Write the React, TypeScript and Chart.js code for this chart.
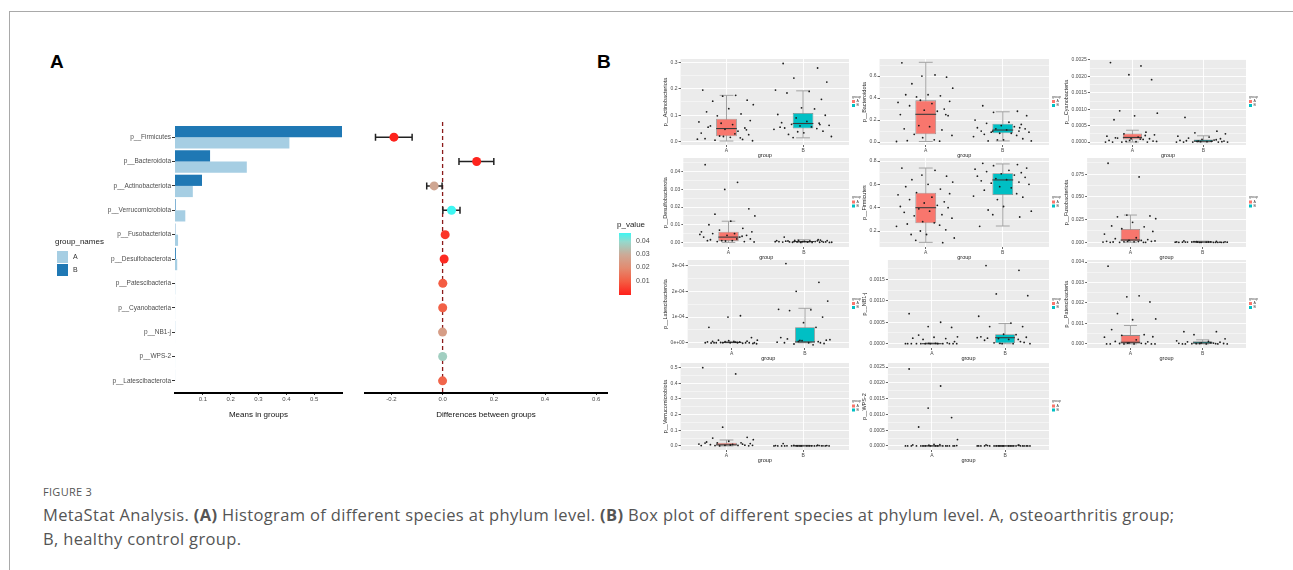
import React, { useEffect, useRef } from "react";
import { Chart, registerables } from "chart.js";
Chart.register(...registerables);
Chart.defaults.font.family = "'Liberation Sans', Arial, sans-serif";

// ---------- Panel A: means and differences ----------
const PHYLA = ["p__Firmicutes", "p__Bacteroidota", "p__Actinobacteriota", "p__Verrucomicrobiota", "p__Fusobacteriota", "p__Desulfobacterota", "p__Patescibacteria", "p__Cyanobacteria", "p__NB1-j", "p__WPS-2", "p__Latescibacterota"];
const MEAN_A = [0.411, 0.258, 0.064, 0.037, 0.011, 0.008, 0.0008, 0.0003, 0.0001, 0.0002, 0.0];
const MEAN_B = [0.602, 0.126, 0.097, 0.002, 0.001, 0.003, 0.0001, 0.0001, 0.0003, 0.0, 0.0001];
const MEAN_TICKS = [0.1, 0.2, 0.3, 0.4, 0.5];
const DIFF = [-0.19, 0.133, -0.033, 0.035, 0.01, 0.006, 0.0009, 0.0004, -0.0002, 0.0002, -0.0001];
const DIFF_LO = [-0.262, 0.064, -0.062, 0.001, 0.004, 0.002, 0.0, -0.0001, -0.0006, -0.0002, -0.0002];
const DIFF_HI = [-0.119, 0.2, -0.002, 0.068, 0.016, 0.01, 0.0015, 0.0008, 0.0002, 0.0006, 0.0];
const P_VALUES = [0.0005, 0.0008, 0.029, 0.0465, 0.004, 0.002, 0.01, 0.011, 0.026, 0.038, 0.012];
const DIFF_TICKS = [-0.2, 0, 0.2, 0.4, 0.6];
const P_LEGEND_TICKS = [0.01, 0.02, 0.03, 0.04];
const P_MAX = 0.0465;
const P_STOPS: [number, string][] = [
  [0, "#ff1f1a"], [0.01, "#f45c42"], [0.02, "#e38a6f"], [0.03, "#cda996"], [0.04, "#96d8cc"], [0.0465, "#3ef6f2"],
];

// ---------- Panel B: box plots ----------
const GROUPS = ["A", "B"];
const JITTER = [-0.31, 0.12, -0.05, 0.27, -0.18, 0.35, 0.03, -0.26, 0.19, -0.12, 0.31, -0.36, 0.08, -0.21, 0.24, -0.02, 0.15, -0.33, 0.29, -0.09, 0.05, -0.28, 0.21, -0.15, 0.34, -0.04, 0.11, -0.24, 0.18, -0.38, 0.26, -0.07, 0.01, -0.19, 0.37, -0.13, 0.22, -0.3, 0.09, -0.23];

const ACTINO_A = [0.195, 0.175, 0.172, 0.157, 0.153, 0.14, 0.125, 0.113, 0.105, 0.098, 0.08, 0.075, 0.065, 0.06, 0.052, 0.047, 0.04, 0.033, 0.027, 0.022, 0.017, 0.012, 0.009, 0.006, 0.004, 0.02, 0.03, 0.055, 0.015, 0.01, 0.045, 0.07];
const ACTINO_B = [0.295, 0.278, 0.24, 0.225, 0.195, 0.19, 0.184, 0.16, 0.128, 0.124, 0.103, 0.1, 0.09, 0.077, 0.072, 0.07, 0.066, 0.062, 0.06, 0.056, 0.052, 0.05, 0.047, 0.04, 0.038, 0.034, 0.028, 0.02, 0.016, 0.065, 0.055];
const BACTE_A = [0.72, 0.61, 0.6, 0.59, 0.53, 0.49, 0.43, 0.43, 0.42, 0.41, 0.37, 0.36, 0.35, 0.33, 0.3, 0.29, 0.28, 0.25, 0.24, 0.15, 0.14, 0.12, 0.11, 0.07, 0.06, 0.04, 0.02, 0.012, 0.008, 0.005, 0.25, 0.38];
const BACTE_B = [0.33, 0.28, 0.27, 0.24, 0.2, 0.18, 0.17, 0.16, 0.15, 0.14, 0.13, 0.12, 0.12, 0.11, 0.1, 0.1, 0.09, 0.09, 0.08, 0.08, 0.07, 0.06, 0.05, 0.03, 0.02, 0.02, 0.01, 0.01, 0.1, 0.13];
const CYANO_A = [0.00242, 0.00232, 0.00205, 0.0019, 0.00095, 0.00088, 0.0008, 0.00068, 0.0003, 0.00025, 0.00022, 0.00018, 0.00015, 0.00012, 0.0001, 0.0001, 0.00008, 0.00005, 0.00003, 0.00002, 0.00001, 0, 0, 0, 0.00002, 0.00005, 0.00009, 0.00013, 0.0002, 0];
const CYANO_B = [0.00075, 0.00033, 0.00028, 0.00025, 0.00018, 0.00015, 0.00012, 0.0001, 0.00008, 0.00006, 0.00005, 0.00003, 0.00002, 0.00001, 0, 0, 0, 0, 0.00001, 0.00002, 0.00004, 0.00007, 0, 0.00001, 0.00003];
const DESULFO_A = [0.044, 0.034, 0.03, 0.019, 0.016, 0.015, 0.012, 0.01, 0.008, 0.007, 0.006, 0.006, 0.005, 0.005, 0.004, 0.004, 0.003, 0.003, 0.002, 0.001, 0.001, 0.001, 0.0005, 0.0005, 0.0003, 0.0008, 0.002, 0.0015, 0.0035, 0.0045];
const DESULFO_B = [0.003, 0.0015, 0.0012, 0.001, 0.001, 0.0008, 0.0008, 0.0006, 0.0005, 0.0005, 0.0004, 0.0003, 0.0003, 0.0002, 0.0002, 0.0001, 0.0001, 0, 0, 0, 0.0007, 0.0009, 0.0004, 0.0002, 0.0011, 0.0006, 0.0003, 0.0001, 0.0005, 0.0013];
const FIRMI_A = [0.74, 0.72, 0.68, 0.67, 0.64, 0.62, 0.6, 0.58, 0.56, 0.53, 0.52, 0.51, 0.49, 0.47, 0.45, 0.44, 0.42, 0.41, 0.4, 0.39, 0.37, 0.36, 0.34, 0.33, 0.31, 0.28, 0.27, 0.26, 0.25, 0.24, 0.21, 0.2, 0.17, 0.17, 0.14, 0.12, 0.1];
const FIRMI_B = [0.78, 0.77, 0.76, 0.74, 0.73, 0.72, 0.71, 0.7, 0.69, 0.68, 0.67, 0.66, 0.65, 0.64, 0.63, 0.62, 0.61, 0.6, 0.58, 0.57, 0.55, 0.52, 0.5, 0.49, 0.47, 0.41, 0.38, 0.37, 0.34, 0.32, 0.24];
const FUSO_A = [0.087, 0.072, 0.03, 0.029, 0.028, 0.026, 0.022, 0.018, 0.017, 0.015, 0.012, 0.009, 0.005, 0.004, 0.003, 0.002, 0.002, 0.001, 0.001, 0.0005, 0.0005, 0, 0, 0, 0.0015, 0.001, 0.0008, 0.0003, 0, 0.0002];
const FUSO_B = [0.0015, 0.001, 0.0008, 0.0005, 0.0004, 0.0003, 0.0002, 0.0001, 0, 0, 0, 0, 0.0006, 0.0002, 0.0001, 0, 0.0003, 0.0001, 0, 0.0004, 0.0002, 0, 0.0001, 0, 0.0003];
const LATE_A = [0.00006, 0.000105, 0.0001, 0.00002, 0.00001, 0.00001, 0.000005, 0.000005, 0, 0, 0, 0, 0, 0, 0, 0, -0.000002, 0.000003, -0.000003, 0.000004, 0.000002, -0.000001, 0.000006, 0.000001, -0.000004, 0.000008, 0.000003, 0];
const LATE_B = [0.000308, 0.000235, 0.0002, 0.000162, 0.00013, 0.000128, 0.000125, 0.0001, 0.000078, 0.00006, 0.00002, 0.00001, 0.000005, 0, 0, 0, -0.000005, 0.000012, 0.000008, -0.000008, 0.000015, 0.000004, 0.000002, -0.000003, 0.000009];
const NB1_A = [0.0007, 0.0005, 0.0004, 0.00038, 0.0002, 0.00016, 0.00015, 0.00013, 0.00012, 0.0001, 0.00005, 0, 0, 0, 0, 0, 0, 0, 0, 0, 0.00001, 0, 0.00002, 0, 0, 0.00001];
const NB1_B = [0.00182, 0.00171, 0.00116, 0.00112, 0.00064, 0.00048, 0.0004, 0.0004, 0.00022, 0.00021, 0.00016, 0.00015, 0.00012, 0.0001, 0.00008, 0.00005, 0.00002, 0, 0, 0, 0.00013, 0.0001, 0.00014, 0.00003, 0.00001];
const PATE_A = [0.0038, 0.00235, 0.0023, 0.00205, 0.00148, 0.00122, 0.00118, 0.0007, 0.00045, 0.00042, 0.00035, 0.00033, 0.0002, 0.00012, 0.0001, 0.00005, 0.00003, 0, 0, 0, 0, 0, 0.00001, 0.00002, 0, 0.00004];
const PATE_B = [0.0006, 0.0006, 0.00045, 0.00025, 0.00015, 0.00012, 0.0001, 0.00008, 0.00005, 0.00004, 0.00003, 0.00002, 0.00001, 0, 0, 0, 0.00001, 0, 0.00002, 0.00006, 0, 0.00001];
const VERRU_A = [0.5, 0.46, 0.12, 0.055, 0.05, 0.04, 0.03, 0.025, 0.02, 0.02, 0.015, 0.012, 0.01, 0.008, 0.005, 0.004, 0.003, 0.002, 0.001, 0, 0.006, 0.018, 0.011, 0.002, 0.004];
const VERRU_B = [0.015, 0.005, 0.003, 0.002, 0.002, 0.001, 0.001, 0.0005, 0, 0, 0, 0, 0.001, 0.0005, 0, 0.002, 0.001, 0, 0.0003, 0.0008, 0, 0.0004, 0.0002, 0.001, 0];
const WPS_A = [0.00244, 0.0019, 0.0012, 0.0009, 0.0006, 0.0002, 0.00005, 0.00003, 0, 0, 0, 0, 0, 0, 0, 0, 0, 0, 0, 0, 0, 0, 0, 0, 0.00001, 0.00002, 0.00004];
const WPS_B = [0.00003, 0.00002, 0, 0, 0, 0, 0, 0, 0, 0, 0, 0, 0, 0, 0, 0, 0, 0, 0, 0, 0.00001, 0.00002, 0, 0, 0];

// box stats: [lower whisker, q1, median, q3, upper whisker]
const BOX_A = [
  [0.003, 0.021, 0.05, 0.087, 0.175], [0.005, 0.07, 0.252, 0.379, 0.725], [0, 0.00008, 0.00014, 0.00026, 0.00036],
  [0, 0.0007, 0.003, 0.006, 0.012], [0.103, 0.266, 0.4, 0.529, 0.74], [0, 0.001, 0.0025, 0.0147, 0.03],
  [0, 0, 0.000001, 0.000003, 0.000005], [0, 0, 0, 0.00001, 0.00002], [0, 0.00001, 0.00008, 0.00043, 0.0009],
  [0, 0.003, 0.007, 0.02, 0.038], [0, 0, 0, 0, 0],
];
const BOX_B = [
  [0.015, 0.05, 0.069, 0.109, 0.192], [0.01, 0.079, 0.109, 0.166, 0.275], [0, 0.000005, 0.00003, 0.00008, 0.00019],
  [0, 0.0002, 0.0005, 0.0008, 0.0015], [0.243, 0.509, 0.638, 0.695, 0.775], [0, 0.0001, 0.0003, 0.0006, 0.0012],
  [0, 0.000001, 0.000003, 0.00006, 0.000134], [0, 0.00001, 0.00014, 0.00022, 0.00047], [0, 0.00001, 0.00005, 0.00013, 0.0002],
  [0, 0, 0.0005, 0.002, 0.004], [0, 0, 0, 0, 0],
];
const BOX_TITLES = ["p__Actinobacteriota", "p__Bacteroidota", "p__Cyanobacteria", "p__Desulfobacterota", "p__Firmicutes", "p__Fusobacteriota", "p__Latescibacterota", "p__NB1-j", "p__Patescibacteria", "p__Verrucomicrobiota", "p__WPS-2"];
const BOX_POINTS_A = [ACTINO_A, BACTE_A, CYANO_A, DESULFO_A, FIRMI_A, FUSO_A, LATE_A, NB1_A, PATE_A, VERRU_A, WPS_A];
const BOX_POINTS_B = [ACTINO_B, BACTE_B, CYANO_B, DESULFO_B, FIRMI_B, FUSO_B, LATE_B, NB1_B, PATE_B, VERRU_B, WPS_B];
const BOX_Y_RANGE = [
  [-0.012, 0.312], [-0.027, 0.755], [-0.00009, 0.00253], [-0.0026, 0.0478], [0.063, 0.826], [-0.0052, 0.0928],
  [-0.0000205, 0.000322], [-0.0001, 0.00195], [-0.0002, 0.0041], [-0.026, 0.53], [-0.00013, 0.00263],
];
const BOX_Y_TICKS = [
  [0, 0.1, 0.2, 0.3], [0, 0.2, 0.4, 0.6], [0, 0.0005, 0.001, 0.0015, 0.002, 0.0025], [0, 0.01, 0.02, 0.03, 0.04],
  [0.2, 0.4, 0.6, 0.8], [0, 0.025, 0.05, 0.075], [0, 0.0001, 0.0002, 0.0003], [0, 0.0005, 0.001, 0.0015],
  [0, 0.001, 0.002, 0.003, 0.004], [0, 0.1, 0.2, 0.3, 0.4, 0.5], [0, 0.0005, 0.001, 0.0015, 0.002, 0.0025],
];
const BOX_Y_LABELS = [
  ["0.0", "0.1", "0.2", "0.3"], ["0.0", "0.2", "0.4", "0.6"], ["0.0000", "0.0005", "0.0010", "0.0015", "0.0020", "0.0025"],
  ["0.00", "0.01", "0.02", "0.03", "0.04"], ["0.2", "0.4", "0.6", "0.8"], ["0.000", "0.025", "0.050", "0.075"],
  ["0e+00", "1e-04", "2e-04", "3e-04"], ["0.0000", "0.0005", "0.0010", "0.0015"], ["0.000", "0.001", "0.002", "0.003", "0.004"],
  ["0.0", "0.1", "0.2", "0.3", "0.4", "0.5"], ["0.0000", "0.0005", "0.0010", "0.0015", "0.0020", "0.0025"],
];

// ---------- style ----------
const LIGHT_BLUE = "#a6cee3";
const DARK_BLUE = "#1f78b4";
const BOX_RED = "#F8766D";
const BOX_TEAL = "#00BFC4";
const COL_LEFT = [660, 859, 1061];
const COL_PANEL_RIGHT = [849, 1049, 1246];
const ROW_PANEL = [[59, 145], [158, 247], [260, 348], [363, 450]];

function hexToRgb(h: string) {
  const n = parseInt(h.slice(1), 16);
  return [(n >> 16) & 255, (n >> 8) & 255, n & 255];
}
function pColor(p: number) {
  for (let i = 1; i < P_STOPS.length; i++) {
    if (p <= P_STOPS[i][0] || i === P_STOPS.length - 1) {
      const [p0, c0] = P_STOPS[i - 1];
      const [p1, c1] = P_STOPS[i];
      const t = Math.max(0, Math.min(1, (p - p0) / (p1 - p0)));
      const a = hexToRgb(c0), b = hexToRgb(c1);
      return `rgb(${a.map((v, k) => Math.round(v + (b[k] - v) * t)).join(",")})`;
    }
  }
  return P_STOPS[0][1];
}

function ChartCanvas({ left, top, width, height, make }: any) {
  const ref = useRef<HTMLCanvasElement>(null);
  useEffect(() => {
    const c = make(ref.current);
    return () => c.destroy();
  }, []);
  return <canvas ref={ref} width={width} height={height} style={{ position: "absolute", left, top, width, height }} />;
}

function makeMeans(canvas: HTMLCanvasElement) {
  return new Chart(canvas, {
    type: "bar",
    data: {
      labels: PHYLA,
      datasets: [
        { label: "B", data: MEAN_B, backgroundColor: DARK_BLUE, categoryPercentage: 0.92, barPercentage: 1 },
        { label: "A", data: MEAN_A, backgroundColor: LIGHT_BLUE, categoryPercentage: 0.92, barPercentage: 1 },
      ],
    },
    options: {
      indexAxis: "y",
      animation: false,
      responsive: false,
      layout: { padding: { top: 25, right: 8, left: 0, bottom: 0 } },
      plugins: { legend: { display: false }, tooltip: { enabled: false } },
      scales: {
        x: {
          type: "linear", min: 0, max: 0.6,
          afterBuildTicks: (s: any) => { s.ticks = MEAN_TICKS.map((v) => ({ value: v })); },
          afterFit: (s: any) => { s.height = 27; },
          ticks: { callback: (v: any) => Number(v).toFixed(1), font: { size: 6 }, color: "#4d4d4d", padding: 1, autoSkip: false, maxRotation: 0 },
          grid: { drawOnChartArea: false, drawTicks: true, tickLength: 2, color: "#333" },
          border: { display: true, color: "#000", width: 2 },
          title: { display: true, text: "Means in groups", font: { size: 8 }, color: "#111", padding: { top: 1, bottom: 0 } },
        },
        y: {
          afterFit: (s: any) => { s.width = 175; },
          ticks: { font: { size: 6.5 }, color: "#4d4d4d", padding: 1 },
          grid: { drawOnChartArea: false, drawTicks: true, tickLength: 3, color: "#333", offset: false },
          border: { display: false },
        },
      },
    },
  } as any);
}

const diffExtras = {
  id: "diffExtras",
  beforeDatasetsDraw(chart: any) {
    const { ctx, chartArea, scales } = chart;
    const x = scales.x, y = scales.y;
    ctx.save();
    ctx.strokeStyle = "#8b1a1a";
    ctx.lineWidth = 1.3;
    ctx.setLineDash([4, 3]);
    const x0 = x.getPixelForValue(0);
    ctx.beginPath();
    ctx.moveTo(x0, chartArea.top - 3);
    ctx.lineTo(x0, chartArea.bottom);
    ctx.stroke();
    ctx.setLineDash([]);
    ctx.strokeStyle = "#222";
    ctx.lineWidth = 1.5;
    PHYLA.forEach((_, i) => {
      const yy = y.getPixelForValue(i);
      const xl = x.getPixelForValue(DIFF_LO[i]);
      const xh = x.getPixelForValue(DIFF_HI[i]);
      ctx.beginPath();
      ctx.moveTo(xl, yy); ctx.lineTo(xh, yy);
      ctx.moveTo(xl, yy - 3.5); ctx.lineTo(xl, yy + 3.5);
      ctx.moveTo(xh, yy - 3.5); ctx.lineTo(xh, yy + 3.5);
      ctx.stroke();
    });
    ctx.restore();
  },
};

function makeDiff(canvas: HTMLCanvasElement) {
  return new Chart(canvas, {
    type: "scatter",
    data: {
      datasets: [{
        data: PHYLA.map((p, i) => ({ x: DIFF[i], y: p })),
        pointRadius: 4.5,
        pointBorderWidth: 0,
        pointBackgroundColor: P_VALUES.map(pColor),
      }],
    },
    options: {
      animation: false,
      responsive: false,
      layout: { padding: { top: 25, right: 13, left: 15, bottom: 0 } },
      plugins: { legend: { display: false }, tooltip: { enabled: false } },
      scales: {
        x: {
          type: "linear", min: -0.303, max: 0.642,
          afterBuildTicks: (s: any) => { s.ticks = DIFF_TICKS.map((v) => ({ value: v })); },
          afterFit: (s: any) => { s.height = 27; },
          ticks: { callback: (v: any) => Number(v).toFixed(1), font: { size: 6 }, color: "#4d4d4d", padding: 1, autoSkip: false, maxRotation: 0 },
          grid: { drawOnChartArea: false, drawTicks: true, tickLength: 2, color: "#333" },
          border: { display: true, color: "#000", width: 2 },
          title: { display: true, text: "Differences between groups", font: { size: 8 }, color: "#111", padding: { top: 1, bottom: 0 } },
        },
        y: { type: "category", labels: PHYLA, offset: true, display: false },
      },
    },
    plugins: [diffExtras],
  } as any);
}

function makeBox(canvas: HTMLCanvasElement, k: number) {
  const [yMin, yMax] = BOX_Y_RANGE[k];
  const majors = BOX_Y_TICKS[k];
  const labels = BOX_Y_LABELS[k];
  const step = majors[1] - majors[0];
  const eps = (yMax - yMin) * 1e-6;
  const all: number[] = [];
  for (let v = majors[0] - step; v <= yMax + eps; v += step / 2) if (v >= yMin - eps) all.push(v);
  const majorIdx = (v: number) => majors.findIndex((t) => Math.abs(t - v) < eps);
  const boxes = [BOX_A[k], BOX_B[k]];
  const pts = [
    ...BOX_POINTS_A[k].map((v, i) => ({ x: 1 + JITTER[i % JITTER.length], y: v })),
    ...BOX_POINTS_B[k].map((v, i) => ({ x: 2 + JITTER[(i + 7) % JITTER.length], y: v })),
  ];
  const boxPlugin = {
    id: "boxExtras",
    beforeDraw(chart: any) {
      const { ctx, chartArea: a } = chart;
      ctx.save();
      ctx.fillStyle = "#ebebeb";
      ctx.fillRect(a.left, a.top, a.right - a.left, a.bottom - a.top);
      ctx.restore();
    },
    beforeDatasetDraw(chart: any, args: any) {
      if (args.index !== 1) return;
      const { ctx, scales } = chart;
      const x = scales.x, y = scales.y;
      const half = x.getPixelForValue(1.09) - x.getPixelForValue(1);
      ctx.save();
      ctx.strokeStyle = "#a3a3a3";
      ctx.lineWidth = 1;
      boxes.forEach((b, i) => {
        const cx = x.getPixelForValue(i + 1);
        const lo = y.getPixelForValue(b[0]), hi = y.getPixelForValue(b[4]);
        ctx.beginPath();
        ctx.moveTo(cx, lo); ctx.lineTo(cx, hi);
        ctx.moveTo(cx - half, lo); ctx.lineTo(cx + half, lo);
        ctx.moveTo(cx - half, hi); ctx.lineTo(cx + half, hi);
        ctx.stroke();
      });
      ctx.restore();
    },
    afterDatasetDraw(chart: any, args: any) {
      if (args.index !== 1) return;
      const { ctx, scales } = chart;
      const x = scales.x, y = scales.y;
      const half = (x.getPixelForValue(1.135) - x.getPixelForValue(1));
      ctx.save();
      ctx.strokeStyle = "#3a3a3a";
      ctx.lineWidth = 1.1;
      boxes.forEach((b, i) => {
        const cx = x.getPixelForValue(i + 1);
        const m = y.getPixelForValue(b[2]);
        ctx.beginPath();
        ctx.moveTo(cx - half, m); ctx.lineTo(cx + half, m);
        ctx.stroke();
      });
      ctx.restore();
    },
    afterDraw(chart: any) {
      const { ctx, chartArea: a } = chart;
      const lx = a.right + 3;
      const cy = (a.top + a.bottom) / 2;
      ctx.save();
      ctx.font = "3.5px 'Liberation Sans', Arial";
      ctx.fillStyle = "#444";
      ctx.textBaseline = "middle";
      ctx.fillText("group", lx, cy - 5);
      [BOX_RED, BOX_TEAL].forEach((c, i) => {
        ctx.fillStyle = c;
        ctx.fillRect(lx, cy - 2 + i * 4, 3, 3);
        ctx.fillStyle = "#444";
        ctx.fillText(GROUPS[i], lx + 4.5, cy - 0.5 + i * 4);
      });
      ctx.restore();
    },
  };
  return new Chart(canvas, {
    type: "scatter",
    data: {
      datasets: [
        { type: "scatter", data: pts, pointRadius: 0.9, pointBorderWidth: 0, pointBackgroundColor: "#1c1c1c" },
        {
          type: "bar",
          data: boxes.map((b, i) => ({ x: i + 1, y: [b[1], b[3]] })),
          backgroundColor: [BOX_RED, BOX_TEAL],
          borderColor: "#8a8a8a",
          borderWidth: 0.8,
          borderSkipped: false,
          barPercentage: 0.27,
          categoryPercentage: 1,
          grouped: false,
        },
      ],
    },
    options: {
      animation: false,
      responsive: false,
      layout: { padding: { top: 4, right: 12, left: 2, bottom: 0 } },
      plugins: { legend: { display: false }, tooltip: { enabled: false } },
      scales: {
        x: {
          type: "linear", min: 0.4, max: 2.6, offset: false,
          afterBuildTicks: (s: any) => { s.ticks = [{ value: 1 }, { value: 2 }]; },
          afterFit: (s: any) => { s.height = 14; },
          ticks: { callback: (v: any) => GROUPS[Math.round(v) - 1], font: { size: 5 }, color: "#4d4d4d", padding: 1, autoSkip: false, maxRotation: 0 },
          grid: { color: "#ffffff", lineWidth: 0.9, tickColor: "#555", tickLength: 2, offset: false },
          border: { display: false },
          title: { display: true, text: "group", font: { size: 5.5 }, color: "#222", padding: { top: 0, bottom: 0 } },
        },
        y: {
          type: "linear", min: yMin, max: yMax,
          afterBuildTicks: (s: any) => { s.ticks = all.map((v) => ({ value: v })); },
          ticks: {
            callback: (v: any) => { const i = majorIdx(Number(v)); return i >= 0 ? labels[i] : ""; },
            font: { size: 5 }, color: "#4d4d4d", padding: 1, autoSkip: false,
          },
          grid: {
            color: "#ffffff",
            lineWidth: (c: any) => (c.tick && majorIdx(c.tick.value) >= 0 ? 0.9 : 0.45),
            tickColor: (c: any) => (c.tick && majorIdx(c.tick.value) >= 0 ? "#555" : "rgba(0,0,0,0)"),
            tickLength: 2,
          },
          border: { display: false },
          title: { display: true, text: BOX_TITLES[k], font: { size: 5.5 }, color: "#222", padding: { top: 0, bottom: 1 } },
        },
      },
    },
    plugins: [boxPlugin],
  } as any);
}

export default function App() {
  const gradient = `linear-gradient(to top, ${P_STOPS.map(([p, c]) => `${c} ${(p / P_MAX) * 100}%`).join(", ")})`;
  return (
    <div style={{ position: "absolute", left: 0, top: 0, width: 1293, height: 570, overflow: "hidden", background: "#fff", fontFamily: "'Liberation Sans', Arial, sans-serif" }}>
      <div style={{ position: "absolute", left: 9, top: 11, width: 1300, height: 600, borderLeft: "1.5px solid #a9a9a9", borderTop: "1.5px solid #a9a9a9" }} />
      <div style={{ position: "absolute", left: 50, top: 51, fontSize: 19, fontWeight: 700, color: "#000" }}>A</div>
      <div style={{ position: "absolute", left: 597, top: 51, fontSize: 19, fontWeight: 700, color: "#000" }}>B</div>

      <ChartCanvas left={0} top={100} width={350} height={320} make={makeMeans} />
      <ChartCanvas left={350} top={100} width={270} height={320} make={makeDiff} />

      {/* group_names legend */}
      <div style={{ position: "absolute", left: 55, top: 237, fontSize: 8, color: "#222" }}>group_names</div>
      {["A", "B"].map((g, i) => (
        <React.Fragment key={g}>
          <div style={{ position: "absolute", left: 57, top: 251 + i * 13, width: 11, height: 12, background: i === 0 ? LIGHT_BLUE : DARK_BLUE }} />
          <div style={{ position: "absolute", left: 73, top: 253 + i * 13, fontSize: 7, color: "#333" }}>{g}</div>
        </React.Fragment>
      ))}

      {/* p_value legend */}
      <div style={{ position: "absolute", left: 617, top: 220, fontSize: 8, color: "#222" }}>p_value</div>
      <div style={{ position: "absolute", left: 619, top: 233, width: 12, height: 62, background: gradient }} />
      {P_LEGEND_TICKS.map((p) => (
        <div key={p} style={{ position: "absolute", left: 636, top: 295 - (p / P_MAX) * 62 - 5, fontSize: 7, color: "#4d4d4d" }}>{p.toFixed(2)}</div>
      ))}

      {BOX_TITLES.map((t, k) => {
        const c = k % 3, r = Math.floor(k / 3);
        const [pt, pb] = ROW_PANEL[r];
        return (
          <ChartCanvas key={t} left={COL_LEFT[c]} top={pt - 4} width={COL_PANEL_RIGHT[c] + 12 - COL_LEFT[c]} height={pb - pt + 4 + 14} make={(cv: HTMLCanvasElement) => makeBox(cv, k)} />
        );
      })}

      <div style={{ position: "absolute", left: 43, top: 484, fontSize: 11, letterSpacing: 0.3, color: "#555", fontFamily: "'Open Sans', sans-serif" }}>FIGURE 3</div>
      <div style={{ position: "absolute", left: 43, top: 503, fontSize: 16.5, letterSpacing: 0.35, lineHeight: "24px", color: "#555", whiteSpace: "nowrap", fontFamily: "'Open Sans', sans-serif" }}>
        MetaStat Analysis. <b>(A)</b> Histogram of different species at phylum level. <b>(B)</b> Box plot of different species at phylum level. A, osteoarthritis group;<br />
        B, healthy control group.
      </div>
    </div>
  );
}
